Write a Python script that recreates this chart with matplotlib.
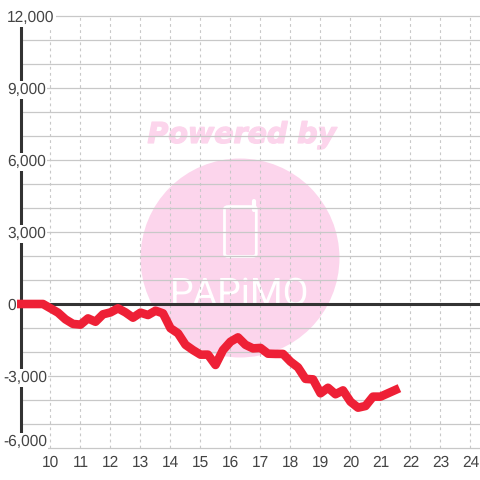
import matplotlib
matplotlib.use("Agg")
import matplotlib.pyplot as plt
import matplotlib.patheffects as pe
from matplotlib.patches import Ellipse, FancyBboxPatch

hours = [9, 9.25, 9.5, 9.75, 10, 10.25, 10.5, 10.75, 11, 11.25, 11.5, 11.75, 12, 12.25, 12.5, 12.75,
         13, 13.25, 13.5, 13.75, 14, 14.25, 14.5, 14.75, 15, 15.25, 15.5, 15.75, 16, 16.25, 16.5, 16.75,
         17, 17.25, 17.5, 17.75, 18, 18.25, 18.5, 18.75, 19, 19.25, 19.5, 19.75, 20, 20.25, 20.5, 20.75,
         21, 21.25, 21.5]
values = [0, 0, 0, 0, -180, -360, -640, -830, -860, -600, -740, -430, -350, -180, -350, -570,
          -360, -460, -280, -390, -1010, -1220, -1700, -1920, -2110, -2110, -2540, -1920, -1570, -1390, -1700, -1850,
          -1830, -2070, -2080, -2080, -2400, -2640, -3120, -3140, -3720, -3490, -3760, -3600, -4070, -4320, -4250, -3860,
          -3860, -3720, -3580]

x_ticks = list(range(10, 25))
y_grid = list(range(-6000, 13000, 1000))
y_labels = [12000, 9000, 6000, 3000, 0, -3000, -6000]

TEXT = "#444444"
GRID = "#c8c8c8"
DARK = "#333333"
PINK = "#fcd5ec"
RED = "#ee2036"

plt.rcParams["font.family"] = ["Liberation Sans", "DejaVu Sans"]
plt.rcParams["text.hinting"] = "no_hinting"

fig = plt.figure(figsize=(4.8, 4.8), dpi=100)
ax = fig.add_axes([20.5 / 480, 32 / 480, 459.5 / 480, 432 / 480])
ax.set_xlim(9, 24.317)
ax.set_ylim(-6000, 12000)

# watermark, under the grid
ax.add_patch(Ellipse((16.317, 1917), 6.63, 8290, color=PINK, lw=0, zorder=0.1))
ax.text(16.38, 7030, "Powered by", color=PINK, fontsize=20.5, fontweight="bold", style="italic",
        ha="center", va="center", zorder=0.2, family=["DejaVu Sans"],
        path_effects=[pe.withStroke(linewidth=1, foreground=PINK)])
ax.add_patch(FancyBboxPatch((15.8, 1980), 1.06, 2080, boxstyle="round,pad=0,rounding_size=0.13",
                            mutation_aspect=800, fc="none", ec="white", lw=2, zorder=0.2))
ax.plot([16.78, 16.78], [3900, 4300], color="white", lw=3, solid_capstyle="round", zorder=0.2)
ax.text(16.31, -40, "PAPiMO", color="white", fontsize=27, ha="center", va="baseline", zorder=0.2,
        family=["Roboto", "DejaVu Sans"])

ax.set_xticks(x_ticks)
ax.set_yticks(y_grid)
ax.set_yticklabels([])
ax.set_axisbelow(False)
ax.grid(axis="y", color=GRID, lw=0.9, clip_on=False)
ax.grid(axis="x", color=GRID, lw=0.8, linestyle=(0, (2.5, 3)), clip_on=False)
ax.tick_params(length=0, labelsize=11.2, labelcolor=TEXT, pad=5)
ax.tick_params(axis="y", labelleft=False)

for name in ["top", "right", "bottom"]:
    ax.spines[name].set_visible(False)
ax.spines["left"].set_color(DARK)
ax.spines["left"].set_linewidth(2.2)
ax.spines["left"].set_zorder(2.6)

ax.axhline(0, color=DARK, lw=2.2, zorder=2.7)
ax.plot(hours, values, color=RED, lw=6.2, solid_joinstyle="round", solid_capstyle="projecting",
        clip_on=False, zorder=4)

for val in y_labels:
    dx = -17.5 if val < 0 else -13.5
    dy = 6 if val == -6000 else -2
    ax.annotate(f"{val:,}", xy=(0, val), xycoords=("axes fraction", "data"), xytext=(dx, dy),
                textcoords="offset pixels", ha="left", va="center", fontsize=11.2, color=TEXT,
                zorder=5, annotation_clip=False,
                bbox=dict(fc="white", ec="none", pad=1))

fig.savefig("out.png", dpi=100)
